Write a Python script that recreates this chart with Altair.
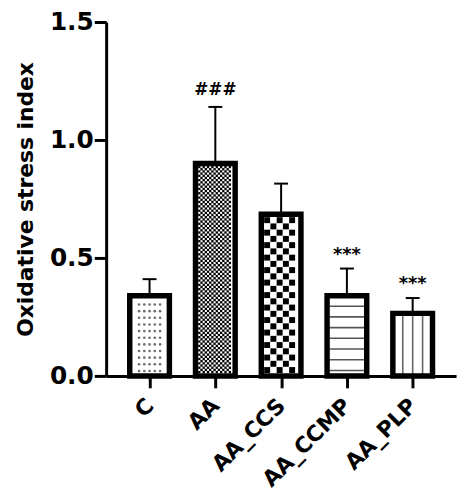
import altair as alt
import pandas as pd

# ---- data ----
categories = ["C", "AA", "AA_CCS", "AA_CCMP", "AA_PLP"]
means = [0.34, 0.90, 0.685, 0.34, 0.265]
upper = [0.41, 1.14, 0.815, 0.455, 0.33]
marks = ["", "###", "", "***", "***"]
patterns = ["dots", "fine_checker", "coarse_checker", "hlines", "vlines"]

# ---- geometry / style ----
W, H = 353, 357
XMIN, XMAX = -0.66, 4.66
YMAX = 1.5
PXX = W / (XMAX - XMIN)
PXY = H / YMAX
STROKE = 5.5
BAR_HALF_PX = 20.0
BAR_HALF = BAR_HALF_PX / PXX
INNER_PX = BAR_HALF_PX - STROKE / 2
INNER = INNER_PX / PXX
CAP = 7.0 / PXX
FONT = "DejaVu Sans"

idx = list(range(len(categories)))
bars = pd.DataFrame({
    "i": idx,
    "x1": [i - BAR_HALF for i in idx],
    "x2": [i + BAR_HALF for i in idx],
    "cx1": [i - CAP for i in idx],
    "cx2": [i + CAP for i in idx],
    "mean": means,
    "upper": upper,
    "zero": [0.0] * len(idx),
    "mark": marks,
})

# ---- fill patterns derived from each bar's value ----
dots, fine, coarse, hl, vl = [], [], [], [], []
for i, v, p in zip(idx, means, patterns):
    top_px = v * PXY - STROKE / 2
    if p == "dots":
        y = 5.0
        while y < top_px - 2:
            for k in (-2, -1, 0, 1, 2):
                dots.append({"x": i + k * 5.3 / PXX, "y": y / PXY})
            y += 6.7
    elif p in ("fine_checker", "coarse_checker"):
        c = 2.2 if p == "fine_checker" else 6.3
        target = fine if p == "fine_checker" else coarse
        r = 0
        y = STROKE / 2 + c / 2
        while y < top_px - c / 2 + 0.5:
            j = 0
            xx = -INNER_PX + c / 2
            while xx < INNER_PX - c / 2 + 0.5:
                if (r + j) % 2 == 0:
                    target.append({"x": i + xx / PXX, "y": y / PXY})
                j += 1
                xx += c
            r += 1
            y += c
    elif p == "hlines":
        y = 5.5
        while y < top_px - 3:
            hl.append({"x1": i - INNER, "x2": i + INNER, "y": y / PXY})
            y += 10.8
    elif p == "vlines":
        for k in (-1, 0, 1):
            vl.append({"x": i + k * 10.0 / PXX, "y1": 0.0, "y2": top_px / PXY})

xscale = alt.Scale(domain=[XMIN, XMAX], nice=False, zero=False)
yscale = alt.Scale(domain=[0, YMAX], nice=False)
label_expr = "[" + ",".join(f"'{c}'" for c in categories) + "][datum.value]"

xaxis = alt.Axis(
    values=idx, labelExpr=label_expr, title=None, grid=False,
    domainWidth=3, domainColor="black", tickWidth=3, tickColor="black", tickSize=12,
    labelAngle=-45, labelAlign="right", labelBaseline="middle", labelPadding=14,
    labelFont=FONT, labelFontWeight="bold", labelFontSize=22, labelColor="black",
    labelOverlap=False, labelBound=False, labelFlush=False,
)
yaxis = alt.Axis(
    values=[0, 0.5, 1.0, 1.5], format=".1f", title="Oxidative stress index", grid=False,
    domainWidth=3, domainColor="black", tickWidth=3, tickColor="black", tickSize=12,
    labelFont=FONT, labelFontWeight="bold", labelFontSize=25, labelColor="black", labelPadding=1,
    titleFont=FONT, titleFontWeight="bold", titleFontSize=22, titleColor="black", titlePadding=12,
)

base = alt.Chart(bars)

bar_fill = base.mark_rect(fill="white", stroke=None).encode(
    x=alt.X("x1:Q", scale=xscale, axis=xaxis), x2="x2:Q",
    y=alt.Y("zero:Q", scale=yscale, axis=yaxis), y2="mean:Q",
)

err = base.mark_rule(color="black", strokeWidth=2).encode(
    x=alt.X("i:Q", scale=xscale), y=alt.Y("mean:Q", scale=yscale), y2="upper:Q"
)
cap = base.mark_rule(color="black", strokeWidth=2).encode(
    x=alt.X("cx1:Q", scale=xscale), x2="cx2:Q", y=alt.Y("upper:Q", scale=yscale)
)

dots_l = alt.Chart(pd.DataFrame(dots)).mark_point(
    shape="circle", filled=True, size=7, color="#6e6e6e", opacity=1
).encode(x=alt.X("x:Q", scale=xscale), y=alt.Y("y:Q", scale=yscale))
fine_l = alt.Chart(pd.DataFrame(fine)).mark_point(
    shape="square", filled=True, size=5.5, color="black", opacity=1
).encode(x=alt.X("x:Q", scale=xscale), y=alt.Y("y:Q", scale=yscale))
coarse_l = alt.Chart(pd.DataFrame(coarse)).mark_point(
    shape="square", filled=True, size=36, color="black", opacity=1
).encode(x=alt.X("x:Q", scale=xscale), y=alt.Y("y:Q", scale=yscale))
hl_l = alt.Chart(pd.DataFrame(hl)).mark_rule(color="#555555", strokeWidth=1.6).encode(
    x=alt.X("x1:Q", scale=xscale), x2="x2:Q", y=alt.Y("y:Q", scale=yscale)
)
vl_l = alt.Chart(pd.DataFrame(vl)).mark_rule(color="#666666", strokeWidth=1.6).encode(
    x=alt.X("x:Q", scale=xscale), y=alt.Y("y1:Q", scale=yscale), y2="y2:Q"
)

bar_border = base.mark_rect(fillOpacity=0, stroke="black", strokeWidth=STROKE).encode(
    x=alt.X("x1:Q", scale=xscale), x2="x2:Q",
    y=alt.Y("zero:Q", scale=yscale), y2="mean:Q",
)

hash_t = base.transform_filter("datum.mark == '###'").mark_text(
    font=FONT, fontSize=17, fontWeight="bold", color="black", baseline="alphabetic", dy=-12
).encode(x=alt.X("i:Q", scale=xscale), y=alt.Y("upper:Q", scale=yscale), text="mark:N")
star_t = base.transform_filter("datum.mark == '***'").mark_text(
    font=FONT, fontSize=18, fontWeight="bold", color="black", baseline="alphabetic", dy=-9
).encode(x=alt.X("i:Q", scale=xscale), y=alt.Y("upper:Q", scale=yscale), text="mark:N")

chart = alt.layer(
    bar_fill, err, cap, dots_l, fine_l, coarse_l, hl_l, vl_l, bar_border, hash_t, star_t
).properties(
    width=W, height=H,
    autosize=alt.AutoSizeParams(type="none"),
    padding={"left": 99, "top": 12, "right": 10, "bottom": 115},
    background="white",
).configure_view(strokeWidth=0)

chart.save("out.html", embed_options={"renderer": "svg", "actions": False})
